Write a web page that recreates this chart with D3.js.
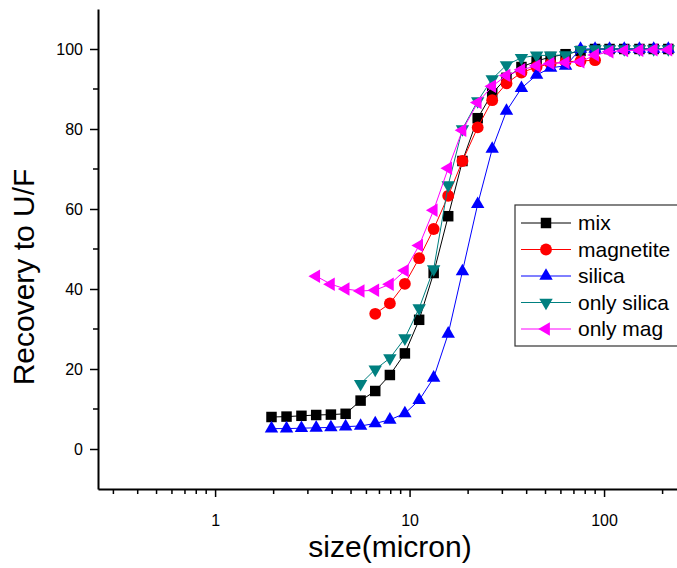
<!DOCTYPE html>
<html>
<head>
<meta charset="utf-8">
<script src="https://cdn.jsdelivr.net/npm/d3@7"></script>
<style>
  html, body { margin: 0; padding: 0; background: #fff; }
  svg { display: block; font-family: "Liberation Sans", Arial, sans-serif; }
</style>
</head>
<body>
<div id="chart"></div>
<script>
// particle sizes (micron), shared by all series
const sizes = [1.95, 2.33, 2.78, 3.31, 3.94, 4.69, 5.60, 6.66, 7.92, 9.46, 11.2, 13.3, 15.8, 18.7,
  22.4, 26.6, 31.5, 37.6, 45.0, 53.1, 63.4, 75.7, 89.9, 106.7, 127, 152, 180, 214];

const mix = [8.0, 8.1, 8.3, 8.5, 8.6, 8.8, 12.1, 14.5, 18.5, 23.9, 32.3, 44.0, 58.2, 72.0,
  82.7, 88.9, 92.8, 95.5, 97.0, 98.0, 98.7, 99.5, 100, 100, 100, 100, 100, 100];
const magnetite = [null, null, null, null, null, null, null, 33.8, 36.4, 41.3, 47.7, 55.0, 63.3, 72.0,
  80.4, 87.2, 91.4, 94.1, 95.5, 96.3, 96.8, 97.0, 97.2, null, null, null, null, null];
const silica = [5.1, 5.1, 5.2, 5.3, 5.4, 5.6, 5.75, 6.4, 7.3, 8.9, 12.2, 17.8, 28.8, 44.4,
  61.2, 75.0, 84.5, 90.2, 93.5, 95.3, 95.8, 100, 100, 100, 100, 100, 100, 100];
const onlySilica = [null, null, null, null, null, null, 16.3, 19.9, 22.7, 27.7, 35.2, 45.0, 66.0, 80.0,
  87.0, 92.5, 96.0, 97.8, 98.4, 98.4, 98.5, 99.8, 100, 100, 100, 100, 100, 100];
const onlyMag = [null, null, null, 43.2, 41.2, 40.0, 39.5, 39.7, 41.2, 44.6, 50.9, 59.7, 70.2, 79.7,
  86.6, 90.7, 93.4, 94.8, 95.8, 96.4, 96.6, 96.8, 98.5, 99.3, 99.6, 99.7, 99.8, 99.8];

const seriesNames = ["mix", "magnetite", "silica", "only silica", "only mag"];
const seriesValues = [mix, magnetite, silica, onlySilica, onlyMag];

const xMajor = [1, 10, 100];
const xMinor = [0.3, 0.4, 0.5, 0.6, 0.7, 0.8, 0.9, 2, 3, 4, 5, 6, 7, 8, 9,
  20, 30, 40, 50, 60, 70, 80, 90, 200];
const yMajor = [0, 20, 40, 60, 80, 100];
const yMinor = [10, 30, 50, 70, 90];

const width = 677, height = 568;
const colors = ["#000000", "#ff0000", "#0000ff", "#008080", "#ff00ff"];
const shapes = [
  { type: d3.symbolSquare, size: 110, rot: 0 },
  { type: d3.symbolCircle, size: 110, rot: 0 },
  { type: d3.symbolTriangle, size: 78, rot: 0 },
  { type: d3.symbolTriangle, size: 78, rot: 180 },
  { type: d3.symbolTriangle, size: 78, rot: -90 }
];

const svg = d3.select("#chart").append("svg")
  .attr("width", width).attr("height", height);

const x = d3.scaleLog().domain([0.25, 240]).range([98, 678]);
const y = d3.scaleLinear().domain([-10, 110]).range([489, 9]);

// axes
const xAxisG = svg.append("g").attr("transform", `translate(0,${y(-10)})`);
xAxisG.call(d3.axisBottom(x).tickValues(xMajor).tickSize(8).tickSizeOuter(0)
  .tickFormat(d3.format("d")));
xAxisG.append("g").selectAll("line").data(xMinor).join("line")
  .attr("x1", d => x(d)).attr("x2", d => x(d))
  .attr("y1", 0).attr("y2", 5).attr("stroke", "#000").attr("stroke-width", 1.5);

const yAxisG = svg.append("g").attr("transform", `translate(${x(0.25)},0)`);
yAxisG.call(d3.axisLeft(y).tickValues(yMajor).tickSize(8).tickSizeOuter(0));
yAxisG.append("g").selectAll("line").data(yMinor).join("line")
  .attr("y1", d => y(d)).attr("y2", d => y(d))
  .attr("x1", 0).attr("x2", -5).attr("stroke", "#000").attr("stroke-width", 1.5);

svg.selectAll(".domain").attr("stroke-width", 2);
svg.selectAll(".tick line").attr("stroke-width", 1.5);
svg.selectAll(".tick text").attr("font-size", 16).attr("fill", "#000")
  .attr("font-family", "'Liberation Sans', Arial, sans-serif");
xAxisG.selectAll(".tick text").attr("dy", "1.6em");
yAxisG.selectAll(".tick text").attr("dx", "-0.25em");

// axis titles
svg.append("text")
  .attr("x", 390).attr("y", 557)
  .attr("text-anchor", "middle").attr("font-size", 30)
  .text("size(micron)");
svg.append("text")
  .attr("transform", "translate(34,277) rotate(-90)")
  .attr("text-anchor", "middle").attr("font-size", 30)
  .text("Recovery to U/F");

// series
const line = d3.line()
  .defined(d => d.v !== null)
  .x(d => x(d.s)).y(d => y(d.v));

seriesValues.forEach((vals, i) => {
  const pts = sizes.map((s, j) => ({ s, v: vals[j] }));
  const g = svg.append("g").attr("class", "series");
  g.append("path").datum(pts)
    .attr("d", line)
    .attr("fill", "none").attr("stroke", colors[i]).attr("stroke-width", 1);
  const sym = d3.symbol().type(shapes[i].type).size(shapes[i].size);
  g.selectAll("path.pt").data(pts.filter(d => d.v !== null)).join("path")
    .attr("class", "pt")
    .attr("d", sym)
    .attr("transform", d => `translate(${x(d.s)},${y(d.v)}) rotate(${shapes[i].rot})`)
    .attr("fill", colors[i]);
});

// legend
const legend = svg.append("g").attr("transform", "translate(515,205)");
legend.append("rect")
  .attr("x", 0).attr("y", 0).attr("width", 180).attr("height", 141)
  .attr("fill", "#fff").attr("stroke", "#333").attr("stroke-width", 1.2);
seriesNames.forEach((name, i) => {
  const ly = 18 + i * 26.5;
  const row = legend.append("g").attr("transform", `translate(0,${ly})`);
  row.append("line").attr("x1", 6).attr("x2", 56).attr("y1", 0).attr("y2", 0)
    .attr("stroke", colors[i]).attr("stroke-width", 1);
  row.append("path")
    .attr("d", d3.symbol().type(shapes[i].type).size(shapes[i].size))
    .attr("transform", `translate(31,0) rotate(${shapes[i].rot})`)
    .attr("fill", colors[i]);
  row.append("text").attr("x", 63).attr("y", 7)
    .attr("font-size", 21).attr("fill", "#000").text(name);
});
</script>
</body>
</html>
